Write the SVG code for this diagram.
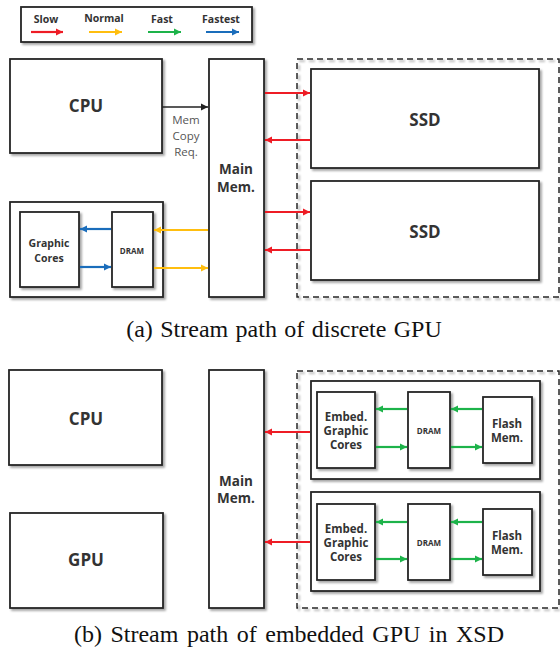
<svg xmlns="http://www.w3.org/2000/svg" width="560" height="654" viewBox="0 0 560 654">
<defs>
<filter id="sh" x="-10%" y="-10%" width="130%" height="130%">
<feDropShadow dx="2" dy="2" stdDeviation="1.2" flood-color="#000" flood-opacity="0.35"/>
</filter>
<marker id="mr" markerUnits="userSpaceOnUse" markerWidth="8" markerHeight="8" refX="7" refY="4" orient="auto"><path d="M0,0.5 L7,4 L0,7.5 z" fill="#ee1c25"/></marker>
<marker id="my" markerUnits="userSpaceOnUse" markerWidth="8" markerHeight="8" refX="7" refY="4" orient="auto"><path d="M0,0.5 L7,4 L0,7.5 z" fill="#ffbe0f"/></marker>
<marker id="mg" markerUnits="userSpaceOnUse" markerWidth="8" markerHeight="8" refX="7" refY="4" orient="auto"><path d="M0,0.5 L7,4 L0,7.5 z" fill="#1db34a"/></marker>
<marker id="mb" markerUnits="userSpaceOnUse" markerWidth="8" markerHeight="8" refX="7" refY="4" orient="auto"><path d="M0,0.5 L7,4 L0,7.5 z" fill="#1a6dbb"/></marker>
<marker id="mk" markerUnits="userSpaceOnUse" markerWidth="8" markerHeight="8" refX="7" refY="4" orient="auto"><path d="M0,0.5 L7,4 L0,7.5 z" fill="#222"/></marker>
</defs>
<style>
.box{fill:#fff;stroke:#262626;stroke-width:1.8;filter:url(#sh)}
.dash{fill:none;stroke:#262626;stroke-width:1.5;stroke-dasharray:6,4;filter:url(#sh)}
.t{font-family:"Open Sans","Liberation Sans",sans-serif;font-weight:bold;fill:#333;text-anchor:middle}
.lbl{font-family:"Open Sans","Liberation Sans",sans-serif;fill:#555;text-anchor:middle;font-size:11.5px}
.cap{font-family:"Liberation Serif",serif;font-size:24px;fill:#111;text-anchor:middle}
.r{stroke:#ee1c25;stroke-width:2.2;fill:none;marker-end:url(#mr)}
.y{stroke:#ffbe0f;stroke-width:2.2;fill:none;marker-end:url(#my)}
.g{stroke:#1db34a;stroke-width:2.2;fill:none;marker-end:url(#mg)}
.b{stroke:#1a6dbb;stroke-width:2.2;fill:none;marker-end:url(#mb)}
.k{stroke:#222;stroke-width:1.5;fill:none;marker-end:url(#mk)}
</style>

<g id="legend">
<rect class="box" x="21" y="7" width="231" height="35"/>
<text class="t" x="46" y="23" font-size="10.5">Slow</text>
<text class="t" x="104" y="22" font-size="10.5">Normal</text>
<text class="t" x="162" y="23" font-size="10.5">Fast</text>
<text class="t" x="221" y="23" font-size="10.5">Fastest</text>
<line class="r" x1="31" y1="32" x2="63" y2="32"/>
<line class="y" x1="89" y1="32" x2="122" y2="32"/>
<line class="g" x1="148" y1="32" x2="181" y2="32"/>
<line class="b" x1="206" y1="32" x2="239" y2="32"/>
</g>

<!-- (a) -->
<g id="a-cpu"><rect class="box" x="10" y="59" width="152" height="94"/><text class="t" x="86" y="112" font-size="17">CPU</text></g>
<g id="a-mainmem"><rect class="box" x="209" y="59" width="55" height="238"/><text class="t" x="236" y="174" font-size="13.5">Main</text><text class="t" x="236" y="192" font-size="13.5">Mem.</text></g>
<g id="a-ssdgroup"><rect class="dash" x="297" y="59" width="262" height="238"/></g>
<g id="a-ssd1"><rect class="box" x="311" y="69" width="228" height="99"/><text class="t" x="425" y="126" font-size="17">SSD</text></g>
<g id="a-ssd2"><rect class="box" x="311" y="181" width="228" height="99"/><text class="t" x="425" y="238" font-size="17">SSD</text></g>
<g id="a-gpu"><rect class="box" x="10" y="202" width="153" height="95"/></g>
<g id="a-cores"><rect class="box" x="20" y="212" width="59" height="75"/><text class="t" x="49" y="247" font-size="10.5">Graphic</text><text class="t" x="49" y="262" font-size="10.5">Cores</text></g>
<g id="a-dram"><rect class="box" x="112" y="212" width="41" height="75"/><text class="t" x="132" y="254" font-size="8">DRAM</text></g>
<text class="lbl" x="186" y="124">Mem</text>
<text class="lbl" x="186" y="140">Copy</text>
<text class="lbl" x="186" y="156">Req.</text>
<text class="cap" x="284" y="337" word-spacing="1.4">(a) Stream path of discrete GPU</text>

<!-- (b) -->
<g id="b-cpu"><rect class="box" x="9" y="370" width="153" height="95"/><text class="t" x="86" y="425" font-size="17">CPU</text></g>
<g id="b-gpu"><rect class="box" x="10" y="513" width="153" height="95"/><text class="t" x="86" y="566" font-size="17">GPU</text></g>
<g id="b-mainmem"><rect class="box" x="209" y="370" width="55" height="238"/><text class="t" x="236" y="486" font-size="13.5">Main</text><text class="t" x="236" y="503" font-size="13.5">Mem.</text></g>
<g id="b-xsdgroup"><rect class="dash" x="297" y="371" width="262" height="237"/></g>
<g id="b-xsd1"><rect class="box" x="311" y="381" width="229" height="98"/></g>
<g id="b-embed1"><rect class="box" x="317" y="392" width="58" height="76"/><text class="t" x="346" y="421" font-size="11.5">Embed.</text><text class="t" x="346" y="435" font-size="11.5">Graphic</text><text class="t" x="346" y="449" font-size="11.5">Cores</text></g>
<g id="b-dram1"><rect class="box" x="408" y="392" width="42" height="76"/><text class="t" x="429" y="434" font-size="8">DRAM</text></g>
<g id="b-flash1"><rect class="box" x="483" y="397" width="49" height="66"/><text class="t" x="507" y="428" font-size="11.5">Flash</text><text class="t" x="507" y="442" font-size="11.5">Mem.</text></g>
<g id="b-xsd2"><rect class="box" x="311" y="492" width="229" height="99"/></g>
<g id="b-embed2"><rect class="box" x="317" y="504" width="58" height="76"/><text class="t" x="346" y="533" font-size="11.5">Embed.</text><text class="t" x="346" y="547" font-size="11.5">Graphic</text><text class="t" x="346" y="561" font-size="11.5">Cores</text></g>
<g id="b-dram2"><rect class="box" x="408" y="504" width="42" height="76"/><text class="t" x="429" y="546" font-size="8">DRAM</text></g>
<g id="b-flash2"><rect class="box" x="483" y="509" width="49" height="66"/><text class="t" x="507" y="540" font-size="11.5">Flash</text><text class="t" x="507" y="554" font-size="11.5">Mem.</text></g>
<text class="cap" x="289" y="642" word-spacing="2.5">(b) Stream path of embedded GPU in XSD</text>

<g id="connectors">
<line class="k" x1="162" y1="107" x2="208" y2="107"/>
<line class="r" x1="265" y1="93" x2="310" y2="93"/>
<line class="r" x1="310" y1="140" x2="265" y2="140"/>
<line class="r" x1="265" y1="212" x2="310" y2="212"/>
<line class="r" x1="310" y1="250" x2="265" y2="250"/>
<line class="y" x1="208" y1="230" x2="154" y2="230"/>
<line class="y" x1="154" y1="268" x2="208" y2="268"/>
<line class="b" x1="111" y1="229" x2="80" y2="229"/>
<line class="b" x1="80" y1="267" x2="111" y2="267"/>
<line class="r" x1="310" y1="432" x2="265" y2="432"/>
<line class="r" x1="310" y1="542" x2="265" y2="542"/>
<line class="g" x1="407" y1="409" x2="376" y2="409"/>
<line class="g" x1="376" y1="447" x2="407" y2="447"/>
<line class="g" x1="482" y1="409" x2="451" y2="409"/>
<line class="g" x1="451" y1="447" x2="482" y2="447"/>
<line class="g" x1="407" y1="522" x2="376" y2="522"/>
<line class="g" x1="376" y1="559" x2="407" y2="559"/>
<line class="g" x1="482" y1="522" x2="451" y2="522"/>
<line class="g" x1="451" y1="559" x2="482" y2="559"/>
</g>
</svg>
